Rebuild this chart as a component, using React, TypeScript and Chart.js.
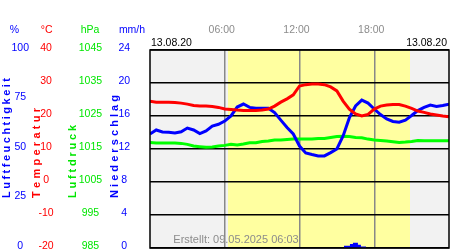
import React, { useEffect, useRef } from 'react';
import { Chart, registerables } from 'chart.js';

Chart.register(...registerables);

// ---- data (hours of 13.08.20) ----
const HOURS = [0, 0.5, 1, 1.5, 2, 2.5, 3, 3.5, 4, 4.5, 5, 5.5, 6, 6.5, 7, 7.5, 8, 8.5, 9, 9.5, 10, 10.5, 11, 11.5, 12, 12.5, 13, 13.5, 14, 14.5, 15, 15.5, 16, 16.5, 17, 17.5, 18, 18.5, 19, 19.5, 20, 20.5, 21, 21.5, 22, 22.5, 23, 23.5, 24];

const TEMPERATURE = [24.5, 24.2, 24.2, 24.2, 24.1, 23.9, 23.6, 23.2, 23.0, 23.0, 22.9, 22.6, 22.1, 22.0, 21.8, 21.7, 21.7, 21.7, 21.8, 22.1, 23.0, 24.2, 25.2, 26.4, 29.1, 29.5, 29.7, 29.7, 29.5, 28.8, 27.6, 24.5, 22.1, 20.6, 20.0, 20.5, 22.1, 23.0, 23.3, 23.5, 23.5, 23.0, 22.3, 21.5, 21.1, 20.6, 20.3, 20.0, 19.8];

const HUMIDITY = [57.6, 59.6, 58.6, 58.4, 58.1, 58.7, 60.6, 59.6, 57.8, 59.1, 61.6, 62.5, 64.1, 66.7, 71.2, 72.7, 71.0, 70.6, 70.6, 70.6, 68.4, 64.6, 60.9, 57.6, 51.5, 48.0, 47.2, 46.5, 46.5, 48.2, 50.0, 56.6, 65.7, 71.7, 74.7, 73.2, 70.2, 67.4, 65.2, 63.9, 63.5, 64.6, 66.9, 69.4, 71.0, 72.2, 71.5, 72.0, 72.6];

const PRESSURE = [1017.0, 1016.8, 1016.8, 1016.8, 1016.8, 1016.7, 1016.4, 1015.9, 1015.7, 1015.5, 1015.6, 1015.9, 1016.1, 1016.4, 1016.2, 1016.5, 1016.9, 1016.9, 1017.3, 1017.4, 1017.7, 1017.7, 1017.9, 1018.0, 1018.0, 1018.0, 1018.0, 1018.2, 1018.2, 1018.5, 1018.8, 1018.9, 1018.8, 1018.5, 1018.4, 1018.0, 1017.7, 1017.6, 1017.4, 1017.2, 1017.0, 1017.1, 1017.3, 1017.6, 1017.5, 1017.5, 1017.5, 1017.5, 1017.5];

const RAIN_HOURS = [15.57, 16.05, 16.29, 16.69, 16.93, 17.34];
const RAIN = [0.28, 0.48, 0.64, 0.4, 0.18, 0];

const TIME_HOURS = [6, 12, 18];
const TIME_LABELS = ['06:00', '12:00', '18:00'];
const SUNRISE = 6.26;
const SUNSET = 20.87;
const DATE_LABEL = '13.08.20';
const CREATED = 'Erstellt: 09.05.2025 06:03';
const AXIS_TITLES = ['Luftfeuchtigkeit', 'Temperatur', 'Luftdruck', 'Niederschlag'];
const UNITS = ['%', '°C', 'hPa', 'mm/h'];

const BLUE = '#0000ff';
const RED = '#ff0000';
const GREEN = '#00ff00';
const GREEN_TXT = '#00e600';
const GRAY_TXT = '#8c8c8c';
const DAY = '#ffffa0';
const NIGHT = '#f2f2f2';
const FONT = '"Liberation Sans", Arial, sans-serif';

const pts = (ys: number[]) => HOURS.map((h, i) => ({ x: h, y: ys[i] }));

// layout of the left-hand text columns
const UNIT_X = [14.5, 46.7, 90, 132];
const TITLE_X = [10.3, 39.5, 76.3, 117.5];
const TITLE_LEN = [120, 90, 73, 103];
const COLORS = [BLUE, RED, GREEN_TXT, BLUE];

const decor = {
  id: 'decor',
  beforeDraw(chart: any) {
    const { ctx, chartArea: a, scales } = chart;
    const sx = scales.x;
    const sr = sx.getPixelForValue(SUNRISE);
    const ss = sx.getPixelForValue(SUNSET);
    ctx.save();
    ctx.fillStyle = NIGHT;
    ctx.fillRect(a.left, a.top, a.right - a.left, a.bottom - a.top);
    ctx.fillStyle = DAY;
    ctx.fillRect(sr, a.top, ss - sr, a.bottom - a.top);
    ctx.restore();
  },
  afterDraw(chart: any) {
    const { ctx, chartArea: a, scales } = chart;
    ctx.save();
    // frame
    ctx.strokeStyle = '#000';
    ctx.lineWidth = 1.5;
    ctx.strokeRect(a.left, a.top, a.right - a.left, a.bottom - a.top);

    // unit header
    ctx.font = `10.5px ${FONT}`;
    ctx.textAlign = 'center';
    ctx.textBaseline = 'middle';
    UNITS.forEach((t, i) => {
      ctx.fillStyle = COLORS[i];
      ctx.fillText(t, UNIT_X[i], 30);
    });

    // time labels
    ctx.fillStyle = GRAY_TXT;
    TIME_HOURS.forEach((h, i) => {
      ctx.fillText(TIME_LABELS[i], scales.x.getPixelForValue(h) - 3, 30);
    });

    // dates
    ctx.fillStyle = '#000';
    ctx.textAlign = 'left';
    ctx.fillText(DATE_LABEL, a.left + 1, 43.5);
    ctx.textAlign = 'right';
    ctx.fillText(DATE_LABEL, a.right - 2, 43.5);

    // created
    ctx.fillStyle = GRAY_TXT;
    ctx.textAlign = 'center';
    ctx.font = `11px ${FONT}`;
    ctx.fillText(CREATED, 236, 240);

    // rotated, letter-spaced titles
    ctx.font = `bold 11px ${FONT}`;
    ctx.textAlign = 'left';
    ctx.textBaseline = 'alphabetic';
    AXIS_TITLES.forEach((t, i) => {
      const chars = Array.from(t);
      const w = chars.reduce((s, c) => s + ctx.measureText(c).width, 0);
      const gap = (TITLE_LEN[i] - w) / (chars.length - 1);
      ctx.save();
      ctx.translate(TITLE_X[i], 198);
      ctx.rotate(-Math.PI / 2);
      ctx.fillStyle = COLORS[i];
      let pos = 0;
      chars.forEach((c) => {
        ctx.fillText(c, pos, 0);
        pos += ctx.measureText(c).width + gap;
      });
      ctx.restore();
    });
    ctx.restore();
  },
};

const leftAxis = (min: number, max: number, step: number, color: string, weight: number, width: number, padding: number, grid = false) => ({
  type: 'linear',
  position: 'left',
  weight,
  min,
  max,
  ticks: {
    stepSize: step,
    color,
    font: { size: 10.5, family: FONT },
    crossAlign: 'center',
    padding,
    labelOffset: -2,
    autoSkip: false,
    callback: (v: number) => String(v),
  },
  grid: grid ? { display: true, color: '#000', lineWidth: 1.5, drawTicks: false } : { display: false, drawTicks: false },
  border: { display: false },
  afterFit: (s: any) => {
    s.width = width;
    s.paddingTop = 0;
    s.paddingBottom = 0;
  },
});

export default function App() {
  const ref = useRef<HTMLCanvasElement>(null);
  useEffect(() => {
    if (!ref.current) return;
    Chart.defaults.font.family = FONT;
    const chart = new Chart(ref.current, {
      type: 'line',
      data: {
        datasets: [
          {
            label: 'Temperatur',
            data: pts(TEMPERATURE),
            yAxisID: 'yTemp',
            borderColor: RED,
            borderWidth: 3,
            pointRadius: 0,
            tension: 0,
          },
          {
            label: 'Luftfeuchtigkeit',
            data: pts(HUMIDITY),
            yAxisID: 'yHum',
            borderColor: BLUE,
            borderWidth: 3,
            pointRadius: 0,
            tension: 0,
          },
          {
            label: 'Luftdruck',
            data: pts(PRESSURE),
            yAxisID: 'yPres',
            borderColor: GREEN,
            borderWidth: 3,
            pointRadius: 0,
            tension: 0,
          },
          {
            label: 'Niederschlag',
            data: RAIN_HOURS.map((h, i) => ({ x: h, y: RAIN[i] })),
            yAxisID: 'yRain',
            borderColor: BLUE,
            backgroundColor: BLUE,
            borderWidth: 0,
            pointRadius: 0,
            stepped: true,
            fill: 'origin',
          },
        ],
      },
      options: {
        responsive: false,
        animation: false,
        layout: { padding: { top: 50, right: 1, bottom: 2, left: 0 } },
        plugins: { legend: { display: false }, tooltip: { enabled: false } },
        scales: {
          x: {
            type: 'linear',
            min: 0,
            max: 24,
            ticks: { display: false },
            grid: { color: '#888', lineWidth: 1.5, drawTicks: false },
            border: { display: false },
            afterBuildTicks: (s: any) => {
              s.ticks = TIME_HOURS.map((v) => ({ value: v }));
            },
            afterFit: (s: any) => {
              s.height = 0;
            },
          },
          yHum: leftAxis(0, 100, 25, BLUE, 4, 30, 1),
          yTemp: leftAxis(-20, 40, 10, RED, 3, 30, 6.3, true),
          yPres: leftAxis(985, 1045, 10, GREEN_TXT, 2, 45, 2.9),
          yRain: leftAxis(0, 24, 4, BLUE, 1, 45, 19.9),
        } as any,
      },
      plugins: [decor],
    } as any);
    return () => chart.destroy();
  }, []);
  return (
    <div style={{ position: 'fixed', left: 0, top: 0, width: 450, height: 250, background: '#fff' }}>
      <canvas ref={ref} width={450} height={250} style={{ display: 'block' }} />
    </div>
  );
}
